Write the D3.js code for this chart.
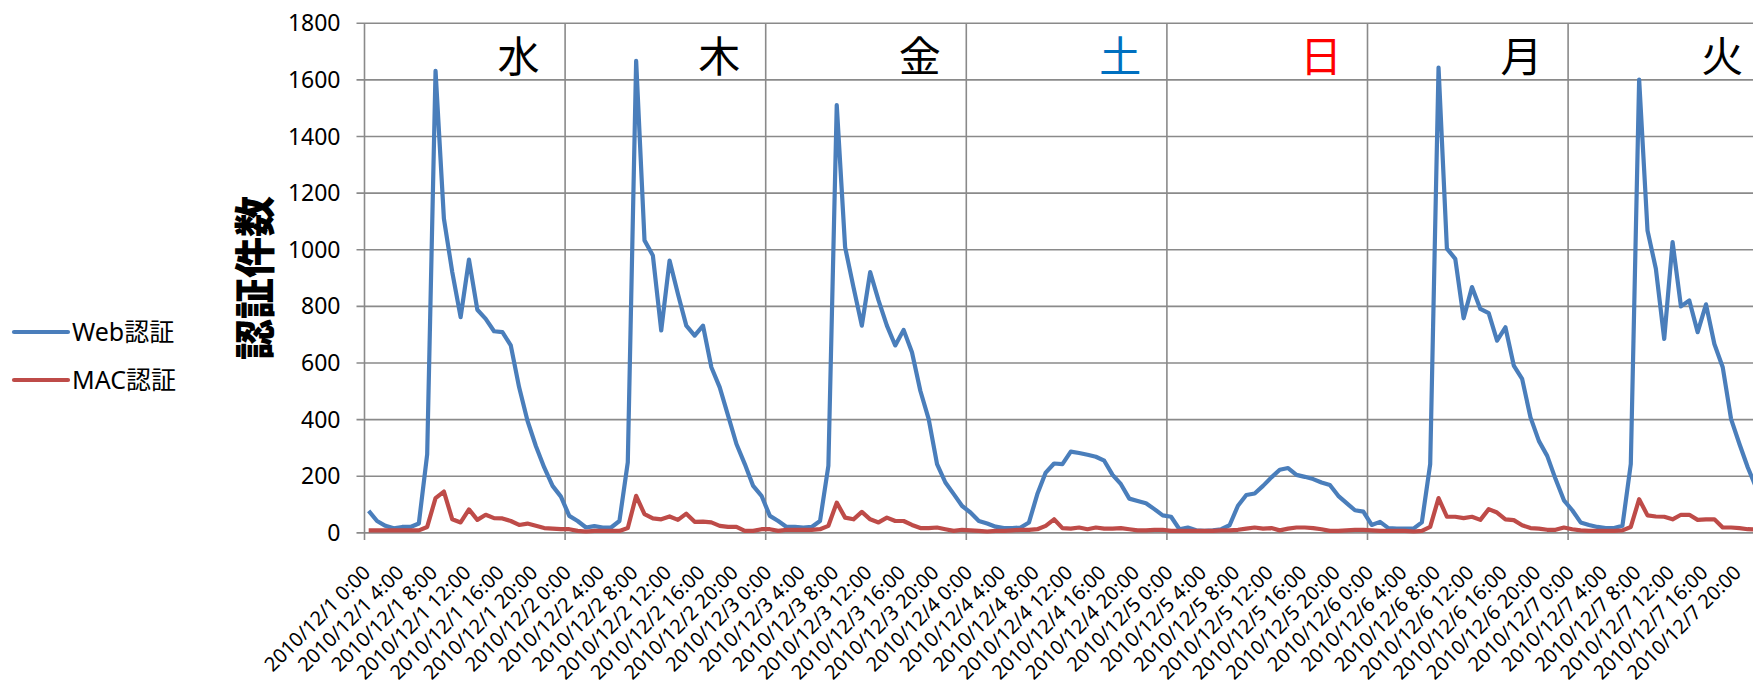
<!DOCTYPE html>
<html>
<head>
<meta charset="utf-8">
<script src="https://cdn.jsdelivr.net/npm/d3@7"></script>
<style>
  body { margin: 0; background: #fff; overflow: hidden; }
  text { font-family: "Noto Sans", "Noto Sans CJK JP", sans-serif; }
</style>
</head>
<body>
<div id="chart"></div>
<script>
// Dates and hours on the category axis (hourly, 2010/12/1 - 2010/12/7)
const dates = ["2010/12/1", "2010/12/2", "2010/12/3", "2010/12/4", "2010/12/5", "2010/12/6", "2010/12/7"];
const hours = d3.range(24);
const dayNames = ["水", "木", "金", "土", "日", "月", "火"];
const dayColors = ["#000000", "#000000", "#000000", "#0070C0", "#FF0000", "#000000", "#000000"];
const yTicks = [0, 200, 400, 600, 800, 1000, 1200, 1400, 1600, 1800];
const seriesNames = ["Web認証", "MAC認証"];

// Web authentication counts, one row per day
const webValues = [
    78, 42, 25, 16, 21, 21, 33, 278, 1632, 1110, 921, 762, 965, 788, 756, 712, 709, 662, 514, 396, 307, 231, 166, 128,
    60, 42, 19, 24, 19, 19, 42, 249, 1667, 1033, 980, 715, 962, 844, 732, 697, 732, 585, 514, 414, 314, 243, 166, 131,
    60, 42, 21, 21, 19, 21, 42, 237, 1511, 1009, 868, 732, 921, 821, 732, 662, 717, 638, 502, 402, 243, 178, 137, 95,
    72, 42, 33, 22, 17, 17, 19, 37, 137, 213, 245, 243, 287, 282, 276, 269, 255, 205, 172, 121, 113, 105, 84, 62,
    57, 13, 19, 9, 7, 9, 13, 27, 96, 134, 139, 166, 196, 223, 229, 205, 198, 190, 178, 169, 131, 105, 80, 75,
    28, 39, 17, 15, 15, 15, 37, 243, 1643, 1004, 968, 758, 868, 791, 776, 679, 726, 591, 544, 408, 325, 272, 190, 115,
    80, 37, 28, 21, 17, 17, 25, 243, 1601, 1068, 933, 685, 1027, 800, 821, 709, 807, 667, 585, 402, 314, 231, 160, 120
];

// MAC authentication counts, one row per day
const macValues = [
    9, 9, 9, 9, 9, 9, 9, 21, 123, 146, 48, 37, 83, 46, 64, 52, 51, 42, 28, 33, 25, 17, 15, 13,
    13, 7, 5, 7, 7, 7, 7, 17, 131, 66, 51, 48, 58, 46, 68, 39, 40, 37, 25, 21, 21, 7, 7, 13,
    13, 7, 11, 11, 11, 11, 13, 25, 107, 54, 48, 74, 48, 37, 54, 42, 42, 28, 17, 17, 19, 13, 7, 11,
    9, 7, 5, 7, 7, 9, 11, 11, 13, 25, 48, 17, 15, 19, 13, 19, 15, 15, 17, 13, 9, 9, 11, 11,
    7, 7, 7, 7, 7, 7, 9, 9, 11, 15, 19, 15, 17, 9, 15, 19, 19, 17, 13, 7, 7, 9, 11, 11,
    9, 7, 7, 7, 7, 5, 7, 21, 123, 57, 57, 52, 57, 46, 84, 72, 48, 45, 27, 17, 15, 11, 11, 19,
    13, 9, 7, 7, 7, 7, 9, 21, 119, 62, 58, 57, 48, 64, 64, 46, 48, 48, 19, 19, 17, 13, 12, 10
];

const categories = dates.flatMap(d => hours.map(h => `${d} ${h}:00`));

// Dimensions (the plot runs a little past the right edge, like the original)
const width = 1753;
const height = 694;
const margin = { top: 23.2, left: 364.5 };
const plotW = 1404.2;
const plotH = 509.7;
const gridColor = "#8a8a8a";
const colors = ["#4A7EBB", "#BE4B48"];

const root = d3.select("#chart")
    .append("svg")
    .attr("width", width)
    .attr("height", height);

const svg = root.append("g")
    .attr("transform", `translate(${margin.left},${margin.top})`);

// Scales
const x = d3.scaleBand()
    .domain(categories)
    .range([0, plotW])
    .padding(0);

const y = d3.scaleLinear()
    .domain([0, 1800])
    .range([plotH, 0]);

const bw = x.bandwidth();

// Horizontal grid lines (with small ticks left of the axis)
svg.append("g")
    .selectAll("line")
    .data(yTicks)
    .enter()
    .append("line")
    .attr("x1", -8)
    .attr("x2", plotW)
    .attr("y1", d => y(d))
    .attr("y2", d => y(d))
    .attr("stroke", gridColor)
    .attr("stroke-width", 1.6);

// Vertical grid lines at each day boundary
const dayStarts = d3.range(dates.length + 1).map(i =>
    i < dates.length ? x(categories[i * 24]) : plotW);

svg.append("g")
    .selectAll("line")
    .data(dayStarts)
    .enter()
    .append("line")
    .attr("x1", d => d)
    .attr("x2", d => d)
    .attr("y1", 0)
    .attr("y2", plotH + 7)
    .attr("stroke", gridColor)
    .attr("stroke-width", 1.6);

// Y axis labels
svg.append("g")
    .selectAll("text")
    .data(yTicks)
    .enter()
    .append("text")
    .attr("x", -24)
    .attr("y", d => y(d))
    .attr("dy", "0.35em")
    .attr("text-anchor", "end")
    .style("font-size", "23px")
    .text(d => d);

// X axis labels, every 4 hours, rotated
svg.append("g")
    .selectAll("text")
    .data(categories.filter((c, i) => i % 4 === 0))
    .enter()
    .append("text")
    .attr("transform", d => `translate(${x(d) + bw / 2 + 3},${plotH + 41}) rotate(-45)`)
    .attr("text-anchor", "end")
    .style("font-size", "20px")
    .text(d => d);

// Day of week labels
svg.append("g")
    .selectAll("text")
    .data(dayNames)
    .enter()
    .append("text")
    .attr("x", (d, i) => dayStarts[i] + (dayStarts[1] - dayStarts[0]) * 0.768)
    .attr("y", 30)
    .attr("text-anchor", "middle")
    .attr("dominant-baseline", "central")
    .attr("fill", (d, i) => dayColors[i])
    .style("font-family", "'Noto Sans CJK JP', sans-serif")
    .style("font-size", "42px")
    .text(d => d);

// Lines
const line = d3.line()
    .x((d, i) => x(categories[i]) + bw / 2)
    .y(d => y(d));

[webValues, macValues].forEach((vals, k) => {
    svg.append("path")
        .datum(vals)
        .attr("fill", "none")
        .attr("stroke", colors[k])
        .attr("stroke-width", 4.2)
        .attr("stroke-linejoin", "round")
        .attr("d", line);
});

// Y axis title
root.append("text")
    .attr("transform", "translate(252,278) rotate(-90)")
    .attr("text-anchor", "middle")
    .attr("dominant-baseline", "central")
    .style("font-family", "'Noto Sans CJK JP', sans-serif")
    .style("font-size", "41px")
    .style("font-weight", "900")
    .text("認証件数");

// Legend
const legend = root.append("g");
seriesNames.forEach((name, k) => {
    const ly = 332 + k * 48;
    legend.append("line")
        .attr("x1", 14)
        .attr("x2", 68)
        .attr("y1", ly)
        .attr("y2", ly)
        .attr("stroke", colors[k])
        .attr("stroke-width", 4.2)
        .attr("stroke-linecap", "round");
    legend.append("text")
        .attr("x", 72)
        .attr("y", ly)
        .attr("dy", "0.35em")
        .style("font-size", "25px")
        .text(name);
});
</script>
</body>
</html>
